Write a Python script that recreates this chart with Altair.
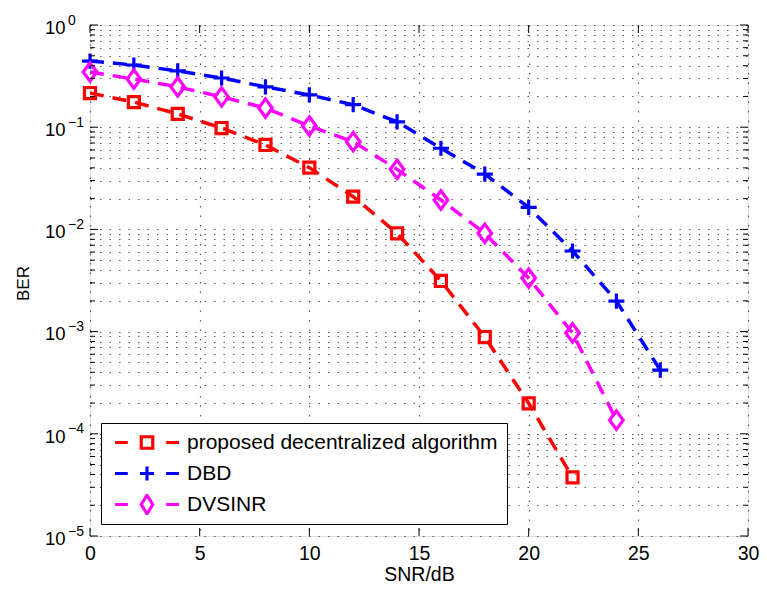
import altair as alt
import pandas as pd

series_names = ["proposed decentralized algorithm", "DBD", "DVSINR"]
series_colors = ["#FF0000", "#0000FF", "#FF00FF"]

snr_proposed = [0, 2, 4, 6, 8, 10, 12, 14, 16, 18, 20, 22]
ber_proposed = [0.216, 0.176, 0.135, 0.0982, 0.0670, 0.0402, 0.0209, 0.00916,
                0.00313, 0.000885, 0.000199, 3.75e-5]

snr_dbd = [0, 2, 4, 6, 8, 10, 12, 14, 16, 18, 20, 22, 24, 26]
ber_dbd = [0.444, 0.406, 0.355, 0.303, 0.248, 0.207, 0.166, 0.113, 0.0622,
           0.0348, 0.0164, 0.00615, 0.00199, 0.00042]

snr_dvsinr = [0, 2, 4, 6, 8, 10, 12, 14, 16, 18, 20, 22, 24]
ber_dvsinr = [0.347, 0.296, 0.248, 0.198, 0.154, 0.1027, 0.0722, 0.0387,
              0.0194, 0.00916, 0.00334, 0.00097, 0.000136]

x_ticks = [0, 5, 10, 15, 20, 25, 30]
y_exponents = [0, -1, -2, -3, -4, -5]
y_exp_labels = ["0", "\u22121", "\u22122", "\u22123", "\u22124", "\u22125"]

W, H = 658, 511
FONT = "Liberation Sans"

rows = []
for name, xs, ys in [(series_names[0], snr_proposed, ber_proposed),
                     (series_names[1], snr_dbd, ber_dbd),
                     (series_names[2], snr_dvsinr, ber_dvsinr)]:
    for xv, yv in zip(xs, ys):
        rows.append({"snr": xv, "ber": yv, "series": name})
df = pd.DataFrame(rows)

major_y = [10.0 ** e for e in y_exponents]
minor_y = [m * 10.0 ** e for e in range(-5, 0) for m in range(2, 10)]
grid_y = sorted(major_y + minor_y)

xscale = alt.Scale(domain=[0, 30], nice=False, zero=False)
yscale = alt.Scale(type="log", domain=[1e-5, 1], nice=False)
cscale = alt.Scale(domain=series_names, range=series_colors)

X = alt.X("snr:Q", scale=xscale,
          axis=alt.Axis(values=x_ticks, title="SNR/dB", grid=True, tickSize=0,
                        domain=False, labelFontSize=19.5, labelPadding=8,
                        labelFlush=False, labelOverlap=False,
                        labelColor="black", labelFont=FONT,
                        titleFontSize=19.5, titleFontWeight="normal", titleFont=FONT,
                        titleColor="black", titleY=44, titleBaseline="alphabetic",
                        gridDash=[1.5, 8], gridColor="#333", gridWidth=1.2,
                        gridOpacity=0.8))
Y = alt.Y("ber:Q", scale=yscale,
          axis=alt.Axis(values=grid_y, title="BER", grid=True, tickSize=0,
                        domain=False, labels=False,
                        titleFontSize=17, titleFontWeight="normal", titleFont=FONT,
                        titleColor="black", titleAngle=270, titleX=-62, titleY=258,
                        titleBaseline="alphabetic",
                        gridDash=[1.5, 8], gridColor="#333", gridWidth=1.2,
                        gridOpacity=0.8))

base = alt.Chart(df)

legend_paths = [
    "M-1,0L-0.6,0M-0.18,-0.18L0.18,-0.18L0.18,0.18L-0.18,0.18ZM0.6,0L1,0",
    "M-1,0L-0.6,0M-0.22,0L0.22,0M0,-0.22L0,0.22M0.6,0L1,0",
    "M-1,0L-0.6,0M0,-0.29L0.18,0L0,0.29L-0.18,0ZM0.6,0L1,0",
]
leg = alt.Legend(title=None, orient="none", legendX=11, legendY=398,
                 symbolSize=4096, symbolStrokeWidth=3.2, symbolFillColor="transparent",
                 symbolOpacity=1,
                 clipHeight=21, rowPadding=9, padding=9, symbolOffset=3,
                 labelOffset=6, labelFontSize=21, labelFont=FONT, labelColor="black",
                 labelLimit=1000, strokeColor="black", fillColor="white",
                 labelBaseline="middle")
legend_layer = base.transform_filter("datum.snr < -100").mark_point(
    filled=False, strokeWidth=3, size=4096, opacity=1).encode(
    x=X, y=Y,
    color=alt.Color("series:N", scale=cscale, legend=leg, sort=series_names),
    shape=alt.Shape("series:N", scale=alt.Scale(domain=series_names, range=legend_paths),
                    legend=leg, sort=series_names))

lines = base.mark_line(strokeDash=[14, 9], strokeWidth=3.5, clip=True).encode(
    x="snr:Q", y="ber:Q", color=alt.Color("series:N", scale=cscale, legend=None))

marker_paths = {
    series_names[0]: "M-0.69,-0.69L0.69,-0.69L0.69,0.69L-0.69,0.69Z",
    series_names[1]: "M-1,0L1,0M0,-0.95L0,0.95",
    series_names[2]: "M0,-1.15L0.85,0L0,1.15L-0.85,0Z",
}
point_layers = []
for name in series_names:
    point_layers.append(
        base.transform_filter(alt.datum.series == name)
        .mark_point(shape=marker_paths[name], size=256, filled=False,
                    strokeWidth=3.2, opacity=1)
        .encode(x="snr:Q", y="ber:Q",
                color=alt.Color("series:N", scale=cscale, legend=None)))

# inward tick marks
ymaj = pd.DataFrame({"ber": major_y})
ymin = pd.DataFrame({"ber": minor_y})
xt = pd.DataFrame({"snr": x_ticks})
tick_layers = [
    alt.Chart(ymaj).mark_rule(color="black", strokeWidth=1).encode(
        y="ber:Q", x=alt.value(0), x2=alt.value(8)),
    alt.Chart(ymaj).mark_rule(color="black", strokeWidth=1).encode(
        y="ber:Q", x=alt.value(W - 8), x2=alt.value(W)),
    alt.Chart(ymin).mark_rule(color="black", strokeWidth=1).encode(
        y="ber:Q", x=alt.value(0), x2=alt.value(5)),
    alt.Chart(ymin).mark_rule(color="black", strokeWidth=1).encode(
        y="ber:Q", x=alt.value(W - 5), x2=alt.value(W)),
    alt.Chart(xt).mark_rule(color="black", strokeWidth=1).encode(
        x="snr:Q", y=alt.value(H), y2=alt.value(H - 8)),
    alt.Chart(xt).mark_rule(color="black", strokeWidth=1).encode(
        x="snr:Q", y=alt.value(0), y2=alt.value(8)),
]

# y tick labels: "10" with superscript exponent
ylab = pd.DataFrame({"ber": major_y, "exp": y_exp_labels})
ten_text = alt.Chart(ylab).mark_text(align="left", baseline="alphabetic", dy=8.7,
                                     fontSize=18.5, font=FONT, color="black").encode(
    y="ber:Q", x=alt.value(-45), text=alt.value("10"))
exp_text = alt.Chart(ylab).mark_text(align="left", baseline="alphabetic", dy=-0.5,
                                     fontSize=14, font=FONT, color="black").encode(
    y="ber:Q", x=alt.value(-22), text="exp:N")

chart = alt.layer(legend_layer, lines, *point_layers, *tick_layers, ten_text,
                  exp_text).properties(
    width=W, height=H,
    autosize=alt.AutoSizeParams(type="none"),
    padding={"left": 82, "top": 17, "right": 11, "bottom": 52},
).configure_view(stroke="black", strokeWidth=1.5).configure(
    font=FONT, background="white")

chart.save("out.html", embed_options={"renderer": "svg", "actions": False})
